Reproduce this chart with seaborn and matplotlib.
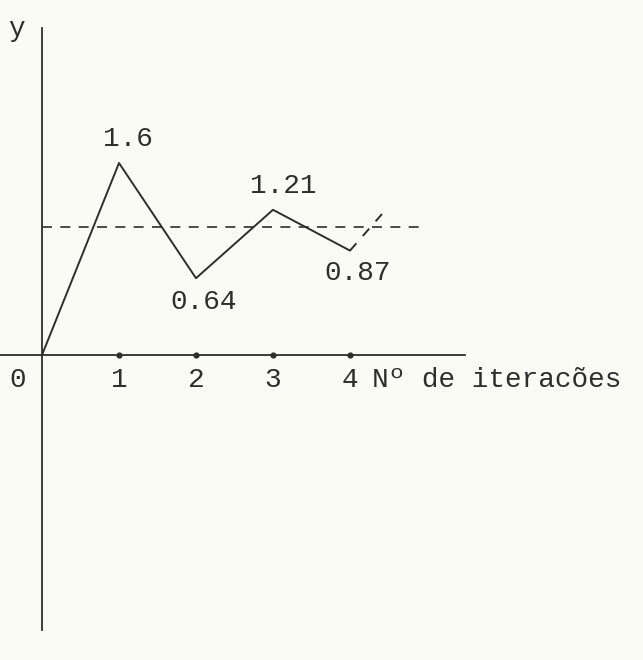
import matplotlib
matplotlib.use("Agg")
import matplotlib.pyplot as plt
import seaborn as sns
import pandas as pd

# Iteration sequence and its limit
iterations = [0, 1, 2, 3, 4]
y_values = [0.0, 1.6, 0.64, 1.21, 0.87]
value_labels = ["1.6", "0.64", "1.21", "0.87"]
fixed_point = 1.07
next_step_x = [4, 4.45]
next_step_y = [0.87, 1.20]
tick_values = [0, 1, 2, 3, 4]
tick_labels = ["0", "1", "2", "3", "4"]

sns.set_theme(style="white")
plt.rcParams["font.family"] = ["Liberation Mono", "DejaVu Sans Mono"]

ink = "#2e2e2e"
paper = "#fbfbf6"

fig = plt.figure(figsize=(6.43, 6.6), dpi=100, facecolor=paper)
ax = fig.add_axes([0, 0, 1, 1], facecolor=paper)

px_x, px_y = 77.0, 120.0  # pixels per data unit
x0, y0 = 42.0, 355.0      # origin in pixels
ax.set_xlim(-x0 / px_x, (643 - x0) / px_x)
ax.set_ylim((y0 - 660) / px_y, y0 / px_y)

df = pd.DataFrame({"iter": iterations, "y": y_values})
sns.lineplot(data=df, x="iter", y="y", ax=ax, color=ink, lw=1.4)

# continuation towards the limit
ax.plot(next_step_x, next_step_y, color=ink, lw=1.4, ls=(0, (5, 5)))

# limit line
ax.plot([0, 4.97], [fixed_point, fixed_point], color=ink, lw=1.2,
        ls=(0, (6, 5)))

# axes drawn through the origin
for s in ["top", "right"]:
    ax.spines[s].set_visible(False)
ax.spines["left"].set_position(("data", 0))
ax.spines["bottom"].set_position(("data", 0))
ax.spines["left"].set_bounds((y0 - 630) / px_y, (y0 - 28) / px_y)
ax.spines["bottom"].set_bounds(-x0 / px_x, (465 - x0) / px_x)
for s in ["left", "bottom"]:
    ax.spines[s].set_color(ink)
    ax.spines[s].set_linewidth(1.3)
ax.set_xticks([])
ax.set_yticks([])
ax.set_xlabel("")
ax.set_ylabel("")

# tick dots and labels on the iteration axis
ax.scatter(tick_values[1:], [0] * 4, s=12, color=ink, zorder=3)
fs = 20
for v, t in zip(tick_values, tick_labels):
    dx = -0.32 if v == 0 else 0.0
    ax.text(v + dx, -0.21, t, ha="center", va="center", fontsize=fs,
            color=ink)
ax.text(4.28, -0.21, "Nº de iteracões", ha="left", va="center",
        fontsize=fs, color=ink)
ax.text(-0.33, 2.72, "y", ha="center", va="center", fontsize=fs,
        color=ink)

# value labels next to each turning point
offsets = [(0.12, 0.2), (0.1, -0.2), (0.13, 0.2), (0.1, -0.19)]
for i, (lab, (dx, dy)) in enumerate(zip(value_labels, offsets), start=1):
    ax.text(iterations[i] + dx, y_values[i] + dy, lab, ha="center",
            va="center", fontsize=fs, color=ink)

fig.savefig("out.png", dpi=100, facecolor=paper)
